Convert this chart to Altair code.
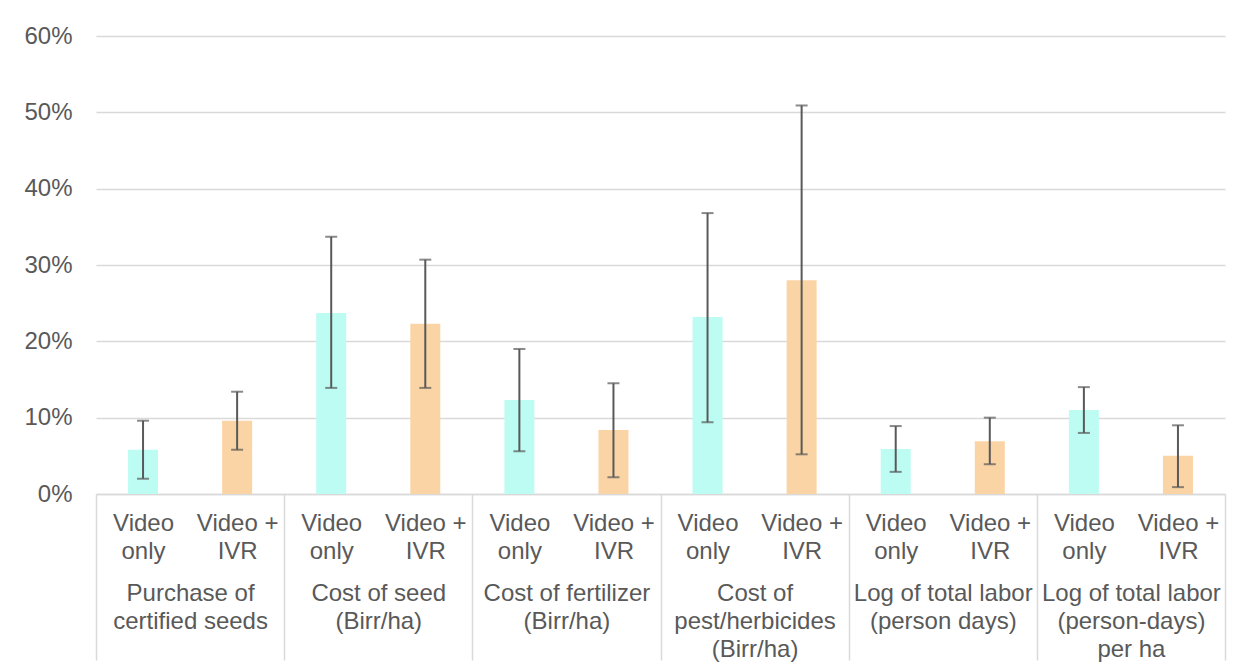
import json
import altair as alt
import pandas as pd

# ---- data ----
groups = [
    ["Purchase of", "certified seeds"],
    ["Cost of seed", "(Birr/ha)"],
    ["Cost of fertilizer", "(Birr/ha)"],
    ["Cost of", "pest/herbicides", "(Birr/ha)"],
    ["Log of total labor", "(person days)"],
    ["Log of total labor", "(person-days)", "per ha"],
]
treatments = ["Video only", "Video + IVR"]
treatment_lines = [["Video", "only"], ["Video +", "IVR"]]

video_only = [5.8, 23.7, 12.3, 23.2, 5.9, 11.0]
video_only_lo = [2.0, 13.9, 5.6, 9.4, 2.9, 8.0]
video_only_hi = [9.6, 33.7, 19.0, 36.8, 8.9, 14.0]

video_ivr = [9.6, 22.3, 8.4, 28.0, 6.9, 5.0]
video_ivr_lo = [5.8, 13.9, 2.2, 5.2, 3.9, 0.9]
video_ivr_hi = [13.4, 30.7, 14.5, 50.9, 10.0, 9.0]

colors = ["#BDFCF3", "#FBD4A6"]
FONT = "Liberation Sans"
TXT = "#595959"
GRID = "#D9D9D9"
FS = 24

rows = []
series = [
    (video_only, video_only_lo, video_only_hi),
    (video_ivr, video_ivr_lo, video_ivr_hi),
]
for gi in range(len(groups)):
    for ti, (vals, los, his) in enumerate(series):
        rows.append({
            "pos": gi * 2 + ti + 0.5,
            "treatment": treatments[ti],
            "value": vals[gi] / 100,
            "lo": los[gi] / 100,
            "hi": his[gi] / 100,
        })
df = pd.DataFrame(rows)

n = len(groups) * 2
xscale = alt.Scale(domain=[0, n], nice=False, zero=False, padding=0)
yscale = alt.Scale(domain=[0, 0.6], nice=False)

treat_expr = json.dumps(treatment_lines) + "[floor(datum.value) % 2]"
group_expr = json.dumps(groups) + "[floor(datum.value / 2)]"

base = alt.Chart(df)

bars = base.mark_bar(size=30).encode(
    x=alt.X("pos:Q", scale=xscale, title=None,
            axis=alt.Axis(values=[i + 0.5 for i in range(n)], orient="bottom",
                          labelExpr=treat_expr, ticks=False, grid=False,
                          domain=True, domainColor=GRID, domainWidth=1.5,
                          labelFont=FONT, labelFontSize=FS, labelColor=TXT,
                          labelLineHeight=28, labelPadding=17,
                          labelBaseline="top", labelFlush=False,
                          labelOverlap=False)),
    y=alt.Y("value:Q", scale=yscale, title=None,
            axis=alt.Axis(values=[i / 10 for i in range(7)], format=".0%",
                          grid=True, gridColor=GRID, gridWidth=1.5,
                          domain=False, ticks=False, labelPadding=24,
                          labelFont=FONT, labelFontSize=FS, labelColor=TXT)),
    color=alt.Color("treatment:N", scale=alt.Scale(domain=treatments, range=colors),
                    legend=None),
)

err = base.mark_rule(color="#595959", strokeWidth=2).encode(
    x=alt.X("pos:Q", scale=xscale, title=None,
            axis=alt.Axis(values=[i * 2 for i in range(len(groups) + 1)],
                          orient="bottom", labels=False, grid=False,
                          domain=False, ticks=True, tickSize=166,
                          tickColor=GRID, tickWidth=1.5)),
    y=alt.Y("lo:Q", scale=yscale, axis=None),
    y2="hi:Q",
)

cap_lo = base.mark_tick(color="#595959", orient="horizontal", size=12,
                        thickness=2).encode(
    x=alt.X("pos:Q", scale=xscale, title=None,
            axis=alt.Axis(values=[i * 2 + 1 for i in range(len(groups))],
                          orient="bottom", labelExpr=group_expr, ticks=False,
                          grid=False, domain=False, labelFont=FONT,
                          labelFontSize=FS, labelColor=TXT, labelLineHeight=28,
                          labelPadding=87, labelBaseline="top",
                          labelFlush=False, labelOverlap=False)),
    y=alt.Y("lo:Q", scale=yscale, axis=None),
)

cap_hi = base.mark_tick(color="#595959", orient="horizontal", size=12,
                        thickness=2).encode(
    x=alt.X("pos:Q", scale=xscale, axis=None),
    y=alt.Y("hi:Q", scale=yscale, axis=None),
)

chart = alt.layer(bars, err, cap_lo, cap_hi).resolve_axis(
    x="independent", y="independent"
).properties(
    width=1129, height=458,
    autosize=alt.AutoSizeParams(type="none"),
    padding={"left": 88, "top": 28, "right": 16, "bottom": 170},
).configure_view(stroke=None)

chart.save("out.html", embed_options={"renderer": "svg", "actions": False})
